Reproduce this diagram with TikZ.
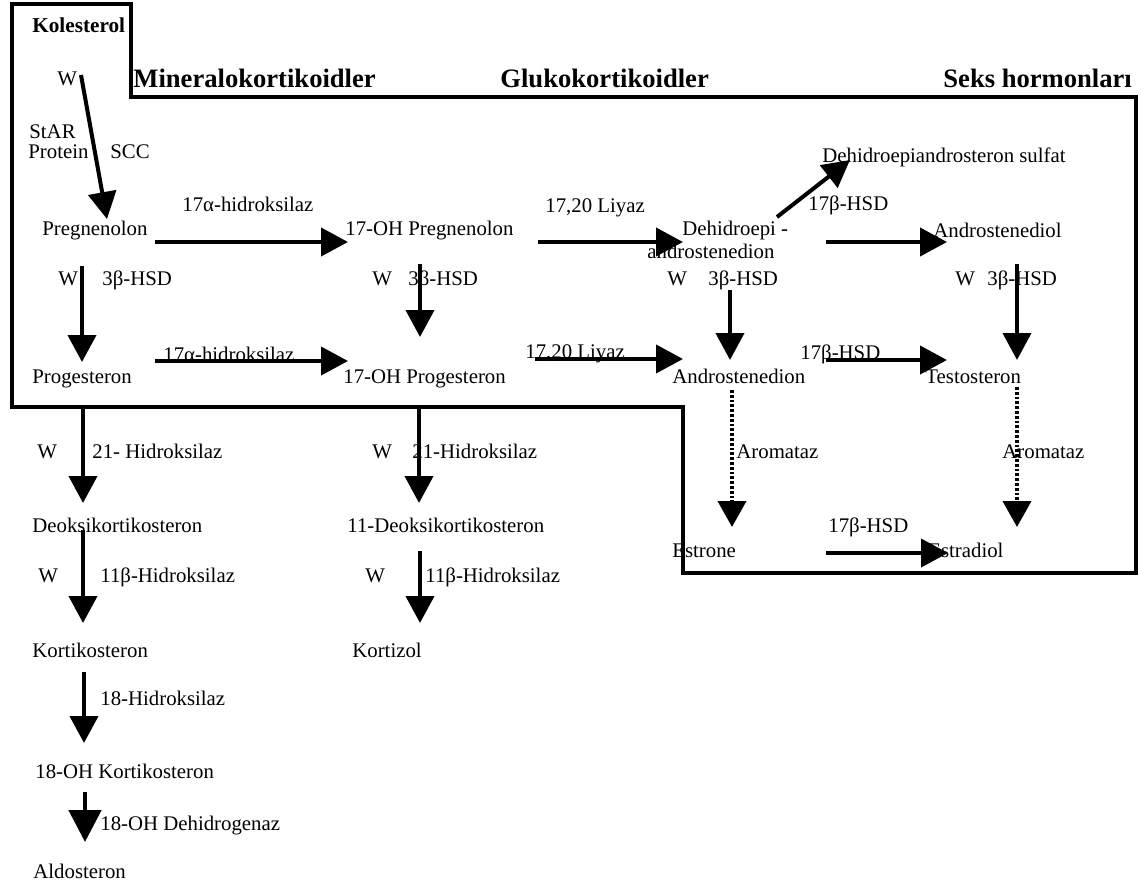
\documentclass[tikz,border=0pt]{standalone}
\usepackage{fontspec}
\setmainfont{Liberation Serif}
\usetikzlibrary{arrows.meta}
\begin{document}
\begin{tikzpicture}[x=0.5pt,y=-0.5pt,
  lbl/.style={inner sep=0pt, anchor=base west, font=\fontsize{10.4}{12}\selectfont},
  hdr/.style={inner sep=0pt, anchor=base west, font=\bfseries\fontsize{13.3}{15}\selectfont},
  kolstyle/.style={inner sep=0pt, anchor=base west, font=\bfseries\fontsize{10.6}{12}\selectfont},
  arr/.style={line width=2pt, -{Triangle[width=14pt,length=13.5pt]}},
  bigarr/.style={line width=2.4pt, -{Triangle[width=16pt,length=16pt]}},
  darr/.style={line width=2pt, dash pattern=on 1.4pt off 1pt, -{Triangle[width=14pt,length=13pt]}},
  frame/.style={line width=2.2pt, line join=miter}]
\useasboundingbox (0,0) rectangle (1141,889);

% frame of the grouped region
\draw[frame] (12,4) -- (131,4) -- (131,97) -- (1136,97) -- (1136,573) -- (683,573) -- (683,407) -- (12,407) -- cycle;

% headings
\node[kolstyle] (kol) at (32,32) {Kolesterol};
\node[hdr] (minh) at (133,87) {Mineralokortikoidler};
\node[hdr] (gluh) at (500,87) {Glukokortikoidler};
\node[hdr] (seksh) at (943,87) {Seks hormonları};

% Kolesterol step
\node[lbl] (wkol) at (57,85) {W};
\node[lbl] (star) at (29,138) {StAR};
\node[lbl] (prot) at (28,158) {Protein};
\node[lbl] (scc) at (110,158) {SCC};

% row 1
\node[lbl] (hyd1) at (182,211) {17α-hidroksilaz};
\node[lbl] (preg) at (42,235) {Pregnenolon};
\node[lbl] (ohpreg) at (345,235) {17-OH Pregnenolon};
\node[lbl] (lya1) at (545,212) {17,20 Liyaz};
\node[lbl] (dhea1) at (682,235) {Dehidroepi -};
\node[lbl] (dhea2) at (647,258) {androstenedion};
\node[lbl] (dheas) at (822,162) {Dehidroepiandrosteron sulfat};
\node[lbl] (hsd17a) at (808,210) {17β-HSD};
\node[lbl] (adiol) at (933,237) {Androstenediol};

% enzymes between rows
\node[lbl] (w1) at (58,285) {W};
\node[lbl] (hsd1) at (102,285) {3β-HSD};
\node[lbl] (w2) at (372,285) {W};
\node[lbl] (hsd2) at (408,285) {3β-HSD};
\node[lbl] (w3) at (667,285) {W};
\node[lbl] (hsd3) at (708,285) {3β-HSD};
\node[lbl] (w4) at (955,285) {W};
\node[lbl] (hsd4) at (987,285) {3β-HSD};

% row 2
\node[lbl] (hyd2) at (163,361) {17α-hidroksilaz};
\node[lbl] (prog) at (32,383) {Progesteron};
\node[lbl] (ohprog) at (343,383) {17-OH Progesteron};
\node[lbl] (lya2) at (525,358) {17,20 Liyaz};
\node[lbl] (andro) at (672,383) {Androstenedion};
\node[lbl] (hsd17b) at (800,359) {17β-HSD};
\node[lbl] (testo) at (925,383) {Testosteron};

% aromatase
\node[lbl] (arom1) at (736,458) {Aromataz};
\node[lbl] (arom2) at (1002,458) {Aromataz};
\node[lbl] (hsd17c) at (828,532) {17β-HSD};
\node[lbl] (estrone) at (672,557) {Estrone};
\node[lbl] (estradiol) at (928,557) {Estradiol};

% left column below
\node[lbl] (w5) at (37,458) {W};
\node[lbl] (h21a) at (92,458) {21- Hidroksilaz};
\node[lbl] (deoksi) at (32,532) {Deoksikortikosteron};
\node[lbl] (w6) at (38,582) {W};
\node[lbl] (h11a) at (100,582) {11β-Hidroksilaz};
\node[lbl] (korti) at (32,657) {Kortikosteron};
\node[lbl] (h18) at (100,705) {18-Hidroksilaz};
\node[lbl] (ohkorti) at (35,778) {18-OH Kortikosteron};
\node[lbl] (ohdeh) at (100,830) {18-OH Dehidrogenaz};
\node[lbl] (aldo) at (33,878) {Aldosteron};

% middle column below
\node[lbl] (w7) at (372,458) {W};
\node[lbl] (h21b) at (412,458) {21-Hidroksilaz};
\node[lbl] (deoksi11) at (347,532) {11-Deoksikortikosteron};
\node[lbl] (w8) at (365,582) {W};
\node[lbl] (h11b) at (425,582) {11β-Hidroksilaz};
\node[lbl] (kortizol) at (352,657) {Kortizol};

% connector end points
\coordinate (a1s) at (81,75);    \coordinate (a1e) at (107,219);
\coordinate (a2s) at (155,242);  \coordinate (a2e) at (348,242);
\coordinate (a3s) at (82,266);   \coordinate (a3e) at (82,362);
\coordinate (a4s) at (420,264);  \coordinate (a4e) at (420,337);
\coordinate (a5s) at (155,361);  \coordinate (a5e) at (348,361);
\coordinate (a6s) at (538,242);  \coordinate (a6e) at (683,242);
\coordinate (a7s) at (730,290);  \coordinate (a7e) at (730,360);
\coordinate (a8s) at (535,359);  \coordinate (a8e) at (683,359);
\coordinate (a9s) at (777,217);  \coordinate (a9e) at (850,160);
\coordinate (a10s) at (826,242); \coordinate (a10e) at (947,242);
\coordinate (a11s) at (1017,264);\coordinate (a11e) at (1017,360);
\coordinate (a12s) at (826,360); \coordinate (a12e) at (947,360);
\coordinate (a13s) at (732,390); \coordinate (a13e) at (732,527);
\coordinate (a14s) at (1017,387);\coordinate (a14e) at (1017,527);
\coordinate (a15s) at (826,553); \coordinate (a15e) at (948,553);
\coordinate (a16s) at (83,407);  \coordinate (a16e) at (83,503);
\coordinate (a17s) at (419,407); \coordinate (a17e) at (419,503);
\coordinate (a18s) at (83,530);  \coordinate (a18e) at (83,623);
\coordinate (a19s) at (420,551); \coordinate (a19e) at (420,623);
\coordinate (a20s) at (84,672);  \coordinate (a20e) at (84,743);
\coordinate (a21s) at (85,792);  \coordinate (a21e) at (85,842);

\draw[arr] (a1s) -- (a1e);
\draw[arr] (a2s) -- (a2e);
\draw[arr] (a3s) -- (a3e);
\draw[arr] (a4s) -- (a4e);
\draw[arr] (a5s) -- (a5e);
\draw[arr] (a6s) -- (a6e);
\draw[arr] (a7s) -- (a7e);
\draw[arr] (a8s) -- (a8e);
\draw[arr] (a9s) -- (a9e);
\draw[arr] (a10s) -- (a10e);
\draw[arr] (a11s) -- (a11e);
\draw[arr] (a12s) -- (a12e);
\draw[darr] (a13s) -- (a13e);
\draw[darr] (a14s) -- (a14e);
\draw[arr] (a15s) -- (a15e);
\draw[arr] (a16s) -- (a16e);
\draw[arr] (a17s) -- (a17e);
\draw[arr] (a18s) -- (a18e);
\draw[arr] (a19s) -- (a19e);
\draw[arr] (a20s) -- (a20e);
\draw[bigarr] (a21s) -- (a21e);
\end{tikzpicture}
\end{document}
